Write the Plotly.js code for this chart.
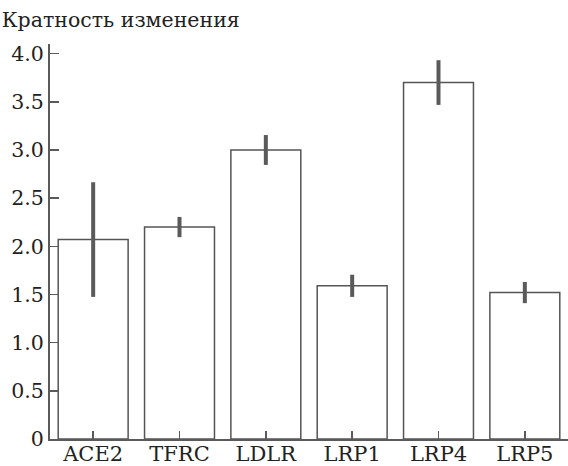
<!DOCTYPE html>
<html>
<head>
<meta charset="utf-8">
<script src="https://cdn.plot.ly/plotly-3.0.1.min.js"></script>
<style>html,body{margin:0;padding:0;background:#fff}#chart{width:568px;height:466px}</style>
</head>
<body>
<div id="chart"></div>
<script>
const categories = ["ACE2", "TFRC", "LDLR", "LRP1", "LRP4", "LRP5"];
const foldChange = [2.07, 2.2, 3.0, 1.59, 3.7, 1.52];
const errorValues = [0.595, 0.105, 0.155, 0.115, 0.232, 0.11];
const yTickValues = [0, 0.5, 1.0, 1.5, 2.0, 2.5, 3.0, 3.5, 4.0];
const yTickLabels = ["0", "0.5", "1.0", "1.5", "2.0", "2.5", "3.0", "3.5", "4.0"];

const serif = "DejaVu Serif";
const trace = {
  type: "bar",
  x: categories,
  y: foldChange,
  marker: {color: "#ffffff", line: {color: "#555555", width: 1.5}},
  error_y: {type: "data", array: errorValues, visible: true, color: "#5a5a5a", thickness: 4, width: 0},
  hoverinfo: "none"
};
const layout = {
  width: 568, height: 466,
  margin: {l: 50, r: 0, t: 44, b: 27},
  paper_bgcolor: "#fff", plot_bgcolor: "#fff",
  showlegend: false,
  bargap: 0.19,
  font: {family: serif, color: "#222", size: 21},
  title: {text: "Кратность изменения", x: 0.003, xref: "container", xanchor: "left",
          y: 0.957, yref: "container", yanchor: "middle",
          font: {family: serif, size: 20.5, color: "#222"}},
  xaxis: {
    range: [-0.5, 5.5], showline: true, linecolor: "#5a5a5a", linewidth: 2,
    ticks: "inside", ticklen: 8, tickwidth: 1.5, tickcolor: "#5a5a5a",
    ticklabelstandoff: -5,
    tickfont: {family: serif, size: 21, color: "#222"}, showgrid: false, zeroline: false,
    fixedrange: true, layer: "above traces"
  },
  yaxis: {
    range: [0, 4.1], showline: true, linecolor: "#5a5a5a", linewidth: 2,
    ticks: "inside", ticklen: 9, tickwidth: 1.5, tickcolor: "#5a5a5a",
    tickvals: yTickValues, ticktext: yTickLabels,
    tickfont: {family: serif, size: 20.5, color: "#222"}, showgrid: false, zeroline: false,
    fixedrange: true, layer: "above traces"
  }
};
Plotly.newPlot("chart", [trace], layout, {displayModeBar: false, staticPlot: true});
</script>
</body>
</html>
